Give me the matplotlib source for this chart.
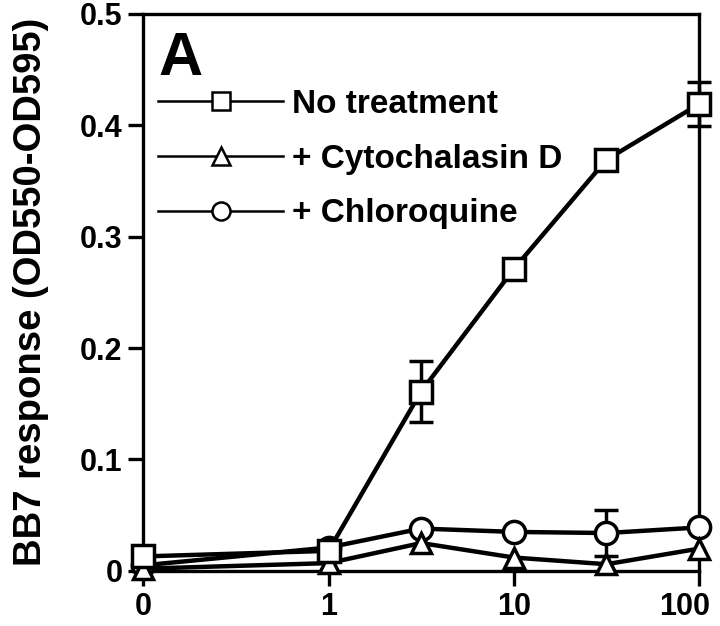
import numpy as np
import matplotlib
matplotlib.use("Agg")
import matplotlib.pyplot as plt
from matplotlib import transforms

plt.rcParams['font.family'] = ['Liberation Sans', 'DejaVu Sans']
plt.rcParams['font.weight'] = 'bold'

# data (x = concentration, 0 drawn one decade left of 1)
conc = np.array([0, 1, 3.16, 10, 31.6, 100])
no_treat = [0.013, 0.018, 0.161, 0.271, 0.369, 0.419]
cytoD = [0.002, 0.007, 0.025, 0.012, 0.006, 0.020]
chloro = [0.005, 0.021, 0.038, 0.035, 0.034, 0.039]
no_treat_err = [0, 0, 0.027, 0, 0, 0.020]
chloro_err = [0, 0, 0, 0, 0.021, 0]
labels = ['No treatment', '+ Cytochalasin D', '+ Chloroquine']
xticks = [0, 1, 10, 100]
yticks = [0, 0.1, 0.2, 0.3, 0.4, 0.5]

xpos = np.where(conc == 0, 0.1, conc)

fig = plt.figure(figsize=(7.2, 6.26), dpi=100)
ax = fig.add_axes([0.199, 0.088, 0.772, 0.89])

# error bars under the markers
for ys, err in [(no_treat, no_treat_err), (chloro, chloro_err)]:
    e = np.array(err)
    m = e > 0
    ax.errorbar(xpos[m], np.array(ys)[m], yerr=e[m], fmt='none', ecolor='black',
                elinewidth=2.5, capsize=8.5, capthick=2.5, zorder=1, clip_on=False)

series = [(no_treat, 's', 15.5), (cytoD, '^', 14.5), (chloro, 'o', 16)]
# circles first, squares last (on top)
for z, (ys, mk, ms) in zip([5, 4, 3], series):
    ax.plot(xpos, ys, marker=mk, ms=ms, mfc='white', mec='black', mew=2.5,
            color='black', lw=3.2, clip_on=False, zorder=z)

# legend drawn with thinner proxies
handles = [plt.Line2D([], [], color='black', lw=1.8, marker=mk, ms=13, mfc='white',
                      mec='black', mew=1.8) for _, mk, _ in series]
leg = ax.legend(handles, labels, loc='upper left', bbox_to_anchor=(0.0, 0.892),
                frameon=False, fontsize=24, handlelength=3.75, handletextpad=0.25,
                labelspacing=0.71, borderaxespad=0.05)
for t in leg.get_texts():
    t.set_fontweight('bold')

ax.text(0.028, 0.890, 'A', transform=ax.transAxes, fontsize=44, fontweight='bold',
        ha='left', va='baseline')

ax.set_xscale('log')
ax.set_xlim(0.1, 100)
ax.set_ylim(0, 0.5)
ax.set_xticks([0.1 if v == 0 else v for v in xticks])
ax.set_xticklabels([str(v) for v in xticks])
ax.xaxis.set_minor_locator(matplotlib.ticker.NullLocator())
ax.set_yticks(yticks)
ax.set_yticklabels(['0' if v == 0 else f'{v:.1f}' for v in yticks])

for s in ax.spines.values():
    s.set_linewidth(2.4)
ax.tick_params(axis='both', direction='out', length=11, width=2.4, labelsize=22, pad=4)
for lab in ax.get_xticklabels() + ax.get_yticklabels():
    lab.set_fontweight('bold')
# last x label sits a little left of its tick, as in the original
last = ax.get_xticklabels()[-1]
last.set_transform(last.get_transform() + transforms.ScaledTranslation(-14 / 100, 0, fig.dpi_scale_trans))

ax.set_ylabel('BB7 response (OD550-OD595)', fontsize=27.5, fontweight='bold', labelpad=22)

fig.savefig('out.png', dpi=100)
